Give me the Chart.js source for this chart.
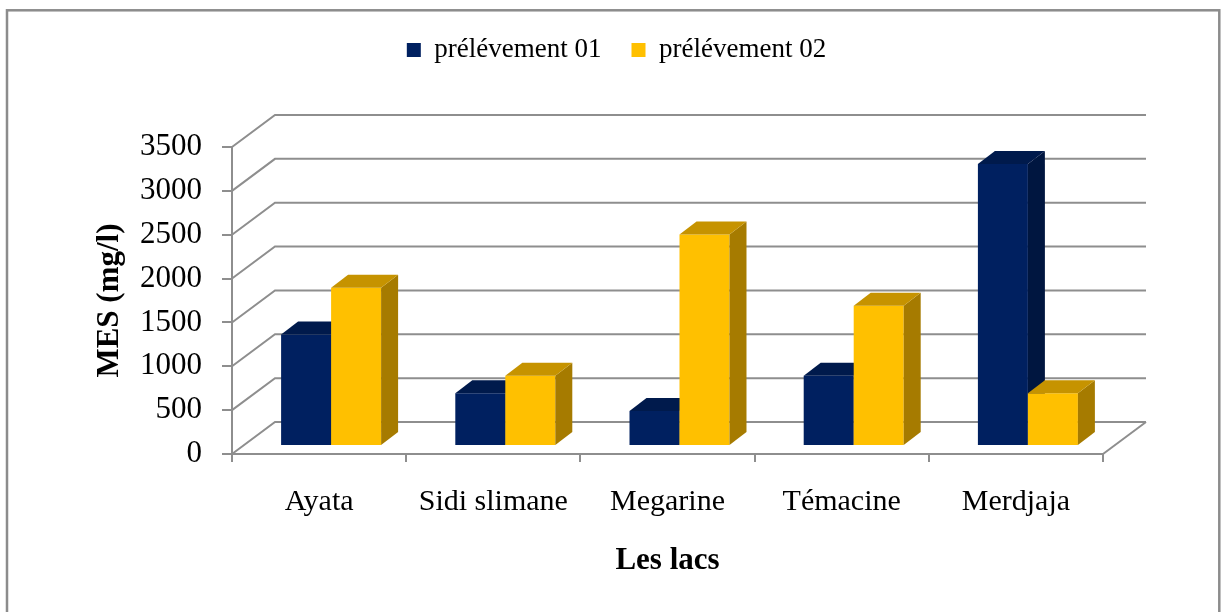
<!DOCTYPE html>
<html>
<head>
<meta charset="utf-8">
<script src="https://cdn.jsdelivr.net/npm/chart.js@4.4.1/dist/chart.umd.min.js"></script>
<style>
  html, body { margin: 0; padding: 0; background: #ffffff; }
  #c { display: block; }
</style>
</head>
<body>
<canvas id="c" width="1224" height="612"></canvas>
<script>
// ---- data ----
const lakes = ['Ayata', 'Sidi slimane', 'Megarine', 'Témacine', 'Merdjaja'];
const sample01 = [1270, 600, 400, 800, 3215];
const sample02 = [1805, 800, 2410, 1600, 600];
const seriesNames = ['prélévement 01', 'prélévement 02'];
const yTicks = [0, 500, 1000, 1500, 2000, 2500, 3000, 3500];
const yTitle = 'MES (mg/l)';
const xTitle = 'Les lacs';

// ---- look ----
const FONT = "'Liberation Serif', 'Times New Roman', Times, serif";
const GRID = '#8e8e8e';
const BLUE = { front: '#002060', top: '#001A4C', side: '#001640' };
const GOLD = { front: '#FFC000', top: '#C69300', side: '#A67B00' };

// plot frame (front plane) and perspective offsets
const AREA = { left: 232, right: 1103, top: 147, bottom: 454 };
const PAD = { left: 14, right: 5, top: 6.5, bottom: 0 };
const WALL = { dx: 43, dy: -32 };       // front plane -> back wall
const SHIFT = { dx: 12, dy: -8 };       // front plane -> bar front faces
const DEPTH = { dx: 17, dy: -13 };      // bar thickness

function fillPoly(ctx, pts, color) {
  ctx.beginPath();
  ctx.moveTo(pts[0][0], pts[0][1]);
  for (let i = 1; i < pts.length; i++) ctx.lineTo(pts[i][0], pts[i][1]);
  ctx.closePath();
  ctx.fillStyle = color;
  ctx.fill();
}

const depthPlugin = {
  id: 'depth3d',
  beforeDraw(chart) {
    const { ctx } = chart;
    ctx.save();
    ctx.strokeStyle = '#8c8c8c';
    ctx.lineWidth = 2.5;
    ctx.strokeRect(7, 10.3, 1212.3, 700);
    ctx.restore();
  },
  beforeDatasetsDraw(chart) {
    const { ctx } = chart;
    const y = chart.scales.y;
    const a = chart.chartArea;
    ctx.save();
    // side wall and back wall gridlines
    ctx.strokeStyle = GRID;
    ctx.lineWidth = 2;
    y.ticks.forEach(t => {
      const py = y.getPixelForValue(t.value);
      ctx.beginPath();
      ctx.moveTo(a.left, py);
      ctx.lineTo(a.left + WALL.dx, py + WALL.dy);
      ctx.lineTo(a.right + WALL.dx, py + WALL.dy);
      ctx.stroke();
    });
    // floor right edge
    const p0 = y.getPixelForValue(0);
    ctx.beginPath();
    ctx.moveTo(a.right, p0);
    ctx.lineTo(a.right + WALL.dx, p0 + WALL.dy);
    ctx.stroke();

    // columns: front face from the bar element, then side and top faces
    ctx.translate(SHIFT.dx, SHIFT.dy);
    lakes.forEach((_, i) => {
      chart.data.datasets.forEach((ds, d) => {
        const el = chart.getDatasetMeta(d).data[i];
        if (!el) return;
        const p = el.getProps(['x', 'y', 'base', 'width'], true);
        const l = p.x - p.width / 2, r = p.x + p.width / 2;
        el.draw(ctx);
        fillPoly(ctx, [[r, p.y], [r + DEPTH.dx, p.y + DEPTH.dy], [r + DEPTH.dx, p.base + DEPTH.dy], [r, p.base]], ds.faces.side);
        fillPoly(ctx, [[l, p.y], [l + DEPTH.dx, p.y + DEPTH.dy], [r + DEPTH.dx, p.y + DEPTH.dy], [r, p.y]], ds.faces.top);
      });
    });
    ctx.restore();
    return false;
  }
};

const noMarks = {
  grid: { display: false },
  border: { display: false },
  ticks: { display: false }
};

new Chart(document.getElementById('c').getContext('2d'), {
  type: 'bar',
  data: {
    labels: lakes,
    datasets: [
      { label: seriesNames[0], data: sample01, backgroundColor: BLUE.front, borderWidth: 0, faces: BLUE, xAxisID: 'x', yAxisID: 'y' },
      { label: seriesNames[1], data: sample02, backgroundColor: GOLD.front, borderWidth: 0, faces: GOLD, xAxisID: 'x', yAxisID: 'y' }
    ]
  },
  options: {
    responsive: false,
    animation: false,
    devicePixelRatio: 1,
    layout: { padding: PAD },
    datasets: { bar: { categoryPercentage: 0.574, barPercentage: 1 } },
    plugins: {
      tooltip: { enabled: false },
      legend: {
        position: 'top',
        labels: {
          boxWidth: 14,
          boxHeight: 14,
          padding: 30,
          color: '#000',
          font: { family: FONT, size: 27 }
        }
      }
    },
    scales: {
      x: {
        position: 'bottom',
        grid: { offset: true, drawOnChartArea: false, drawTicks: true, tickLength: 8, color: GRID, lineWidth: 2 },
        border: { display: true, color: GRID, width: 2 },
        ticks: { color: '#000', font: { family: FONT, size: 30 }, padding: 22, maxRotation: 0, autoSkip: false },
        title: { display: true, text: xTitle, color: '#000', font: { family: FONT, size: 31, weight: 'bold' }, padding: { top: 0, bottom: 32 } },
        afterFit(s) { s.height = 612 - PAD.bottom - AREA.bottom; }
      },
      y: {
        position: 'left',
        min: yTicks[0],
        max: yTicks[yTicks.length - 1],
        grid: { drawOnChartArea: false, drawTicks: true, tickLength: 10, color: GRID, lineWidth: 2 },
        border: { display: true, color: GRID, width: 2 },
        ticks: {
          stepSize: yTicks[1] - yTicks[0],
          color: '#000',
          font: { family: FONT, size: 31 },
          padding: 20,
          callback: v => String(v)
        },
        title: { display: true, text: yTitle, color: '#000', font: { family: FONT, size: 31, weight: 'bold' }, padding: { top: 77, bottom: 0 } },
        afterFit(s) { s.width = AREA.left - PAD.left; }
      },
      // spacing boxes that hold the plot at its place between legend and right edge
      xTop: Object.assign({
        type: 'category', position: 'top',
        afterFit(s) { s.height = AREA.top - PAD.top - (s.chart.legend ? s.chart.legend.height : 0); }
      }, noMarks),
      yRight: Object.assign({
        type: 'linear', position: 'right',
        afterFit(s) { s.width = 1224 - PAD.right - AREA.right; }
      }, noMarks)
    }
  },
  plugins: [depthPlugin]
});
</script>
</body>
</html>
